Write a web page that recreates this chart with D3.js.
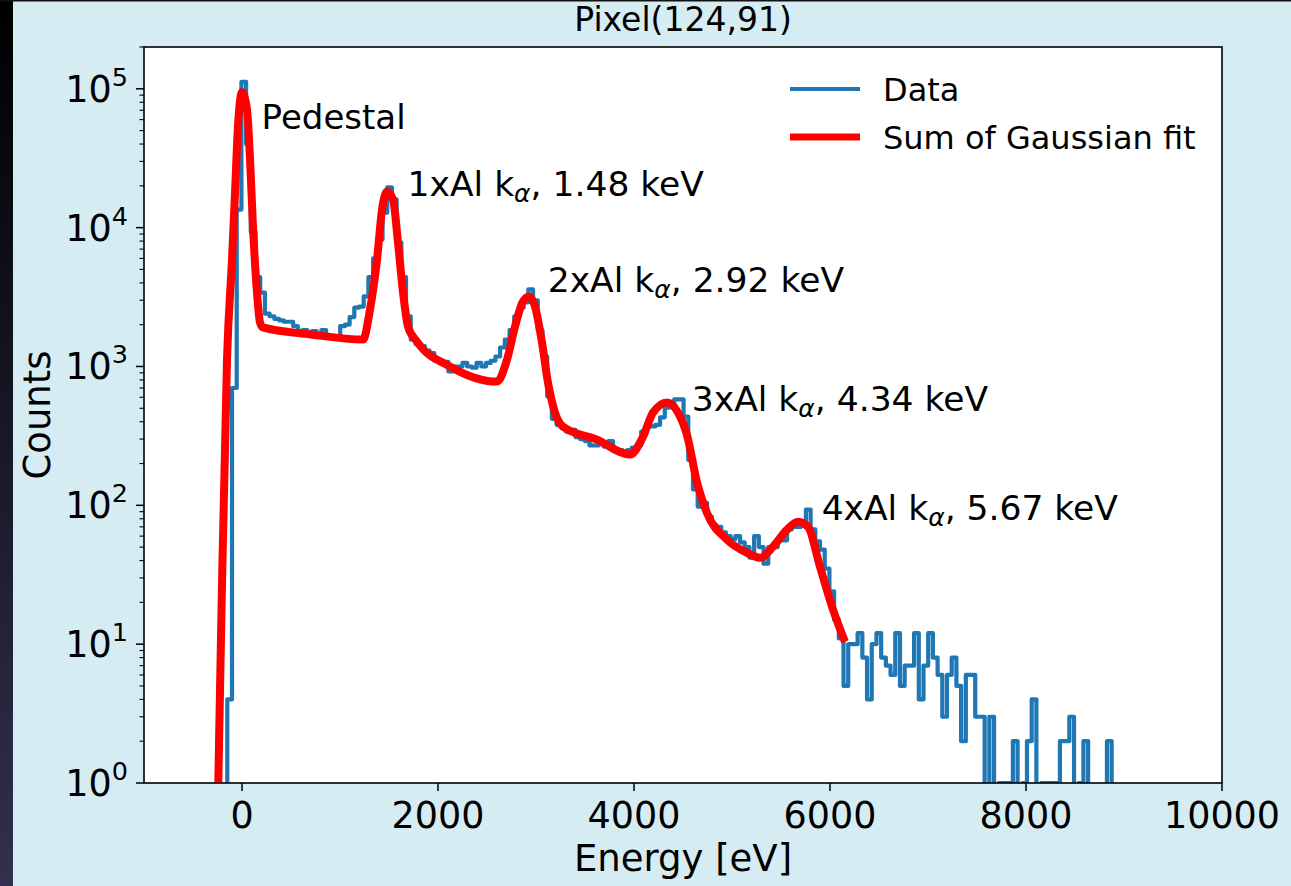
<!DOCTYPE html>
<html><head><meta charset="utf-8">
<script src="https://cdn.jsdelivr.net/npm/d3@7"></script>
<style>
body{margin:0;background:#d6ecf3;}
svg{display:block;font-family:"DejaVu Sans",sans-serif;}
</style>
</head><body>
<svg id="c" width="1291" height="886"></svg>
<script>
// ---------------- data ----------------
const titleText = "Pixel(124,91)";
const xLabel = "Energy [eV]";
const yLabel = "Counts";
const binStart = -150;   // eV, left edge of first histogram bin
const binWidth = 48;     // eV
const counts = [
  4, 700, 13500, 112000, 40000, 9300, 4400, 3400, 2400, 2300,
  2200, 2150, 2100, 2100, 1950, 1800, 1830, 1750, 1800, 1700,
  1830, 1650, 1650, 1650, 1950, 2000, 2270, 2650, 2700, 3200,
  4400, 6000, 8200, 12800, 19500, 16000, 7800, 4400, 2300, 1560,
  1450, 1400, 1300, 1250, 1100, 1100, 1080, 920, 1000, 1000,
  1060, 1000, 980, 1060, 1000, 1060, 1100, 1180, 1370, 1560,
  1830, 2300, 2650, 2900, 3600, 3000, 1830, 1180, 610, 420,
  380, 360, 340, 350, 310, 300, 290, 270, 270, 280,
  265, 290, 250, 250, 240, 250, 260, 270, 340, 370,
  370, 380, 430, 505, 540, 580, 580, 435, 212, 130,
  98, 104, 83, 72, 70, 64, 60, 57, 60, 54,
  50, 42, 60, 50, 38, 50, 50, 56, 56, 67,
  70, 70, 75, 93, 67, 55, 48, 35, 24, 15,
  11, 5, 10, 10, 12, 8, 4, 10, 12, 8,
  7, 6, 12, 5, 7, 7, 12, 4, 7, 12,
  8, 6, 3, 6, 8, 5, 2, 6, 6, 3,
  3, 0, 3, 0, 1, 1, 1, 2, 0, 1,
  2, 4, 0, 1, 1, 1, 1, 2, 2, 3,
  0, 1, 2, 0, 0, 0, 0, 2
];
const fitEnergy = [-242, -207, -153, -102, -71, -41, 0, 51, 82, 112, 153, 184, 214, 700, 1235,
  1306, 1378, 1429, 1480, 1541, 1592, 1643, 1694, 1786, 2122, 2602,
  2704, 2786, 2867, 2929, 2990, 3061, 3122, 3194, 3276, 3622, 3959,
  4092, 4194, 4337, 4449, 4541, 4643, 4745, 4949, 5153, 5286,
  5418, 5561, 5673, 5776, 5898, 6031, 6153];
const fitCounts = [1, 21, 1120, 5900, 17900, 53700, 94400, 71100, 31000, 10200, 3410, 2070, 1910, 1700, 1563,
  2570, 5900, 13500, 18240, 15900, 7800, 3410, 1940, 1510, 1000, 778,
  1120, 1940, 2940, 3190, 2700, 1490, 766, 465, 369, 297, 232,
  312, 465, 550, 465, 320, 146, 88, 56.5, 45.5, 41.9,
  50.3, 66.7, 76.2, 70, 36, 17.7, 10.4];
const xTicks = [0, 2000, 4000, 6000, 8000, 10000];
const yTickExps = [0, 1, 2, 3, 4, 5];
const legendNames = ["Data", "Sum of Gaussian fit"];
const peakNames = ["1xAl", "2xAl", "3xAl", "4xAl"];
const peakEnergies = ["1.48 keV", "2.92 keV", "4.34 keV", "5.67 keV"];
const peakLabelE = [1690, 3120, 4590, 5915];     // annotation anchors (data coords)
const peakLabelC = [16800, 3467, 481, 78.7];
const pedestalLabel = {text: "Pedestal", e: 200, c: 51050};

// ---------------- layout ----------------
const W = 1291, H = 886;
const L = 144, R = 1222, T = 47, B = 783;
const svg = d3.select("#c");
const defs = svg.append("defs");
const grad = defs.append("linearGradient").attr("id", "strip").attr("x1", 0).attr("x2", 0).attr("y1", 0).attr("y2", 1);
grad.append("stop").attr("offset", "0").attr("stop-color", "#000000");
grad.append("stop").attr("offset", "1").attr("stop-color", "#31304e");
defs.append("clipPath").attr("id", "plotclip").append("rect")
  .attr("x", L).attr("y", T).attr("width", R - L).attr("height", B - T);

svg.append("rect").attr("width", W).attr("height", H).attr("fill", "#d6ecf3");
svg.append("rect").attr("width", 13).attr("height", H).attr("fill", "url(#strip)");
svg.append("rect").attr("x", 0).attr("y", 0).attr("width", W).attr("height", 1.5).attr("fill", "#111");

const x = d3.scaleLinear().domain([-1000, 10000]).range([L, R]);
const y = d3.scaleLog().domain([1, 2e5]).range([B, T]);

svg.append("rect").attr("x", L).attr("y", T).attr("width", R - L).attr("height", B - T).attr("fill", "#fff");

const plot = svg.append("g").attr("clip-path", "url(#plotclip)");

// histogram step path
const floorVal = 0.05;
const stepPts = [];
stepPts.push([x(binStart), y(floorVal)]);
counts.forEach((c, i) => {
  const e0 = binStart + i * binWidth, e1 = e0 + binWidth;
  const v = c > 0 ? c : floorVal;
  stepPts.push([x(e0), y(v)]);
  stepPts.push([x(e1), y(v)]);
});
stepPts.push([x(binStart + counts.length * binWidth), y(floorVal)]);
plot.append("path").attr("d", d3.line()(stepPts))
  .attr("fill", "none").attr("stroke", "#1f77b4").attr("stroke-width", 4.2)
  .attr("stroke-linejoin", "round").attr("stroke-linecap", "round");

// fit curve
const fitPts = fitEnergy.map((e, i) => [x(e), y(fitCounts[i])]);
plot.append("path").attr("d", d3.line().curve(d3.curveMonotoneX)(fitPts))
  .attr("fill", "none").attr("stroke", "#ff0000").attr("stroke-width", 8)
  .attr("stroke-linejoin", "round").attr("stroke-linecap", "butt");

// frame
svg.append("rect").attr("x", L).attr("y", T).attr("width", R - L).attr("height", B - T)
  .attr("fill", "none").attr("stroke", "#000").attr("stroke-width", 1.6);

// x axis
const xg = svg.append("g");
xTicks.forEach(t => {
  xg.append("line").attr("x1", x(t)).attr("x2", x(t)).attr("y1", B).attr("y2", B + 8)
    .attr("stroke", "#000").attr("stroke-width", 1.5);
  xg.append("text").attr("x", x(t)).attr("y", 828).attr("text-anchor", "middle")
    .attr("font-size", 36.5).attr("fill", "#000").text(t);
});
// y axis
const yg = svg.append("g");
yTickExps.forEach(ex => {
  const v = Math.pow(10, ex);
  yg.append("line").attr("x1", L - 8).attr("x2", L).attr("y1", y(v)).attr("y2", y(v))
    .attr("stroke", "#000").attr("stroke-width", 1.5);
  const tx = yg.append("text").attr("x", 128).attr("y", y(v) + 13).attr("text-anchor", "end")
    .attr("font-size", 36.5).attr("fill", "#000");
  tx.append("tspan").text("10");
  tx.append("tspan").attr("font-size", 25.5).attr("dy", -16).text(ex);
  if (ex < 5) {
    for (let m = 2; m <= 9; m++) {
      const mv = m * v;
      yg.append("line").attr("x1", L - 4.5).attr("x2", L).attr("y1", y(mv)).attr("y2", y(mv))
        .attr("stroke", "#000").attr("stroke-width", 1.1);
    }
  } else {
    yg.append("line").attr("x1", L - 4.5).attr("x2", L).attr("y1", y(2 * v)).attr("y2", y(2 * v))
      .attr("stroke", "#000").attr("stroke-width", 1.1);
  }
});

// labels
svg.append("text").attr("x", (L + R) / 2).attr("y", 31).attr("text-anchor", "middle")
  .attr("font-size", 33).attr("fill", "#000").text(titleText);
svg.append("text").attr("x", (L + R) / 2).attr("y", 871).attr("text-anchor", "middle")
  .attr("font-size", 37).attr("fill", "#000").text(xLabel);
svg.append("text").attr("transform", `translate(50,${(T + B) / 2}) rotate(-90)`).attr("text-anchor", "middle")
  .attr("font-size", 37).attr("fill", "#000").text(yLabel);

// annotations
svg.append("text").attr("x", x(pedestalLabel.e)).attr("y", y(pedestalLabel.c))
  .attr("font-size", 34).attr("fill", "#000").text(pedestalLabel.text);
peakNames.forEach((n, i) => {
  const t = svg.append("text").attr("x", x(peakLabelE[i])).attr("y", y(peakLabelC[i]))
    .attr("font-size", 34.5).attr("fill", "#000");
  t.append("tspan").text(n + " k");
  t.append("tspan").attr("font-size", 25).attr("font-style", "italic").attr("dy", 6).text("\u03B1");
  t.append("tspan").attr("dy", -6).text(", " + peakEnergies[i]);
});

// legend
const legColors = ["#1f77b4", "#ff0000"];
const legWidths = [4.2, 7];
const legY = [89, 137];
legendNames.forEach((n, i) => {
  svg.append("line").attr("x1", 790).attr("x2", 860).attr("y1", legY[i]).attr("y2", legY[i])
    .attr("stroke", legColors[i]).attr("stroke-width", legWidths[i]);
  svg.append("text").attr("x", 883).attr("y", legY[i] + 12).attr("font-size", 32).attr("fill", "#000").text(n);
});
</script>
</body></html>
